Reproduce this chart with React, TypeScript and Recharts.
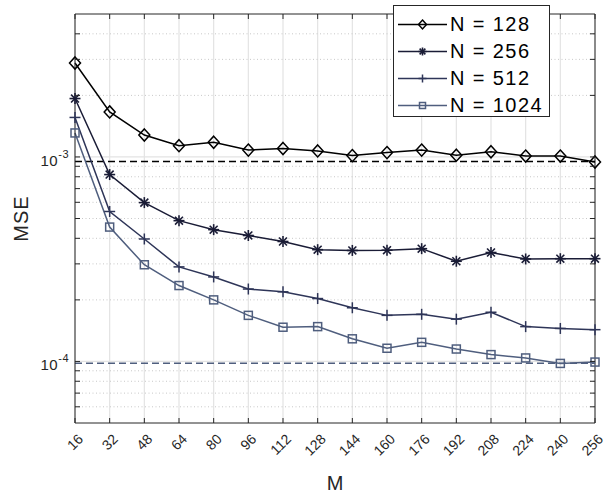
import React from 'react'
import {
  LineChart,
  Line,
  XAxis,
  YAxis,
  CartesianGrid,
  ReferenceLine,
} from 'recharts'

// M values on the x axis
const mValues = [16, 32, 48, 64, 80, 96, 112, 128, 144, 160, 176, 192, 208, 224, 240, 256]

// MSE per N
const mse128 = [2.88e-3, 1.66e-3, 1.28e-3, 1.135e-3, 1.18e-3, 1.08e-3, 1.1e-3, 1.07e-3, 1.015e-3, 1.05e-3, 1.08e-3, 1.02e-3, 1.06e-3, 1.01e-3, 1.01e-3, 9.45e-4]
const mse256 = [1.93e-3, 8.2e-4, 5.98e-4, 4.88e-4, 4.41e-4, 4.13e-4, 3.86e-4, 3.52e-4, 3.49e-4, 3.5e-4, 3.56e-4, 3.09e-4, 3.41e-4, 3.17e-4, 3.18e-4, 3.18e-4]
const mse512 = [1.56e-3, 5.41e-4, 3.97e-4, 2.9e-4, 2.59e-4, 2.26e-4, 2.19e-4, 2.03e-4, 1.83e-4, 1.68e-4, 1.7e-4, 1.61e-4, 1.74e-4, 1.48e-4, 1.45e-4, 1.43e-4]
const mse1024 = [1.31e-3, 4.54e-4, 2.97e-4, 2.35e-4, 2.0e-4, 1.68e-4, 1.47e-4, 1.48e-4, 1.29e-4, 1.16e-4, 1.24e-4, 1.15e-4, 1.08e-4, 1.04e-4, 9.78e-5, 9.93e-5]

// dashed bound lines
const boundHigh = 9.5e-4
const boundLow = 9.8e-5

const yMajorTicks = [1e-4, 1e-3]
const yMinorTicks = [6e-5, 7e-5, 8e-5, 9e-5, 2e-4, 3e-4, 4e-4, 5e-4, 6e-4, 7e-4, 8e-4, 9e-4, 2e-3, 3e-3, 4e-3]
const yDomain = [5e-5, 5e-3]

const legendLabels = ['N = 128', 'N = 256', 'N = 512', 'N = 1024']

const data = mValues.map((m, i) => ({
  m,
  n128: mse128[i],
  n256: mse256[i],
  n512: mse512[i],
  n1024: mse1024[i],
}))

const W = 605
const H = 493
const PLOT_LEFT = 75
const PLOT_RIGHT = 595
const PLOT_TOP = 14
const PLOT_BOTTOM = 423

const AXIS = '#262626'
const FONT = '"Liberation Sans", Arial, Helvetica, sans-serif'
const C128 = '#000000'
const C256 = '#1a1c36'
const C512 = '#2e3558'
const C1024 = '#4f5e7e'

type MarkerKind = 'diamond' | 'star' | 'plus' | 'square'

const Marker = ({ kind, cx, cy, s, color }: { kind: MarkerKind; cx: number; cy: number; s: number; color: string }) => {
  if (kind === 'diamond') {
    return (
      <polygon
        points={`${cx},${cy - s * 1.1} ${cx + s},${cy} ${cx},${cy + s * 1.1} ${cx - s},${cy}`}
        fill="none"
        stroke={color}
        strokeWidth={1.5}
      />
    )
  }
  if (kind === 'square') {
    return <rect x={cx - s} y={cy - s} width={s * 2} height={s * 2} fill="none" stroke={color} strokeWidth={1.5} />
  }
  if (kind === 'plus') {
    return (
      <g stroke={color} strokeWidth={1.5}>
        <line x1={cx - s} x2={cx + s} y1={cy} y2={cy} />
        <line x1={cx} x2={cx} y1={cy - s} y2={cy + s} />
      </g>
    )
  }
  const d = s * 0.72
  return (
    <g stroke={color} strokeWidth={1.6}>
      <line x1={cx - s} x2={cx + s} y1={cy} y2={cy} />
      <line x1={cx} x2={cx} y1={cy - s} y2={cy + s} />
      <line x1={cx - d} x2={cx + d} y1={cy - d} y2={cy + d} />
      <line x1={cx - d} x2={cx + d} y1={cy + d} y2={cy - d} />
    </g>
  )
}

const makeDot = (kind: MarkerKind, s: number, color: string) => (props: any) => {
  const { cx, cy, index } = props
  if (cx == null || cy == null) return <g key={index} />
  return (
    <g key={index}>
      <Marker kind={kind} cx={cx} cy={cy} s={s} color={color} />
    </g>
  )
}

const XTick = (props: any) => {
  const { x, payload } = props
  const ax = x + 9
  const ay = PLOT_BOTTOM + 17
  return (
    <g>
      <line x1={x} x2={x} y1={PLOT_BOTTOM} y2={PLOT_BOTTOM - 5} stroke={AXIS} />
      <line x1={x} x2={x} y1={PLOT_TOP} y2={PLOT_TOP + 5} stroke={AXIS} />
      <text
        x={ax}
        y={ay}
        transform={`rotate(-45 ${ax} ${ay})`}
        textAnchor="end"
        fontSize={14}
        fontFamily={FONT}
        fill={AXIS}
      >
        {String(payload.value)}
      </text>
    </g>
  )
}

const YTick = (props: any) => {
  const { y, payload } = props
  const v = payload.value
  const major = yMajorTicks.includes(v)
  const exp = Math.round(Math.log10(v))
  return (
    <g>
      <line x1={PLOT_LEFT} x2={PLOT_LEFT + 5} y1={y} y2={y} stroke={AXIS} />
      <line x1={PLOT_RIGHT} x2={PLOT_RIGHT - 5} y1={y} y2={y} stroke={AXIS} />
      {major && (
        <text x={69} y={y + 9} textAnchor="end" fontSize={15} fontFamily={FONT} fill={AXIS} letterSpacing={0.5}>
          <tspan>10</tspan>
          <tspan dy={-8} fontSize={11}>{String(exp)}</tspan>
        </text>
      )}
    </g>
  )
}

const XTitle = () => (
  <text x={(PLOT_LEFT + PLOT_RIGHT) / 2} y={490} textAnchor="middle" fontSize={20} fontFamily={FONT} fill={AXIS}>
    M
  </text>
)

const YTitle = () => (
  <text
    transform={`translate(28,${(PLOT_TOP + PLOT_BOTTOM) / 2}) rotate(-90)`}
    textAnchor="middle"
    fontSize={20}
    fontFamily={FONT}
    fill={AXIS}
    letterSpacing={1}
  >
    MSE
  </text>
)

const series: { key: string; color: string; kind: MarkerKind; size: number }[] = [
  { key: 'n128', color: C128, kind: 'diamond', size: 5.5 },
  { key: 'n256', color: C256, kind: 'star', size: 5.5 },
  { key: 'n512', color: C512, kind: 'plus', size: 5.5 },
  { key: 'n1024', color: C1024, kind: 'square', size: 4 },
]

const LegendBox = () => (
  <div
    style={{
      position: 'absolute',
      left: 393,
      top: 5,
      width: 157,
      height: 112,
      border: `1px solid ${AXIS}`,
      background: '#fff',
      boxSizing: 'border-box',
      paddingTop: 5,
    }}
  >
    {series.map((s, i) => (
      <div key={s.key} style={{ display: 'flex', alignItems: 'center', height: 27 }}>
        <svg width={56} height={27} style={{ flex: 'none' }}>
          <line x1={4} x2={53} y1={13.5} y2={13.5} stroke={s.color} strokeWidth={1.5} />
          <Marker kind={s.kind} cx={28.5} cy={13.5} s={s.kind === 'square' ? 3 : 4} color={s.color} />
        </svg>
        <span style={{ fontFamily: FONT, fontSize: 20, color: '#000', letterSpacing: 1.4, whiteSpace: 'nowrap' }}>
          {legendLabels[i]}
        </span>
      </div>
    ))}
  </div>
)

export default function App() {
  return (
    <div style={{ position: 'absolute', left: 0, top: 0, width: W, height: H, background: '#fff' }}>
      <LineChart width={W} height={H} data={data} margin={{ top: PLOT_TOP, right: W - PLOT_RIGHT, left: 15, bottom: 0 }}>
        <CartesianGrid horizontal={false} stroke="#e3e3e3" strokeWidth={1.2} />
        {yMinorTicks.map((v) => (
          <ReferenceLine key={'mi' + v} y={v} stroke="#c8c8c8" strokeDasharray="1 2.5" />
        ))}
        {yMajorTicks.map((v) => (
          <ReferenceLine key={'ma' + v} y={v} stroke="#e3e3e3" strokeWidth={1.2} />
        ))}
        <XAxis
          dataKey="m"
          type="number"
          domain={[16, 256]}
          ticks={mValues}
          interval={0}
          height={H - PLOT_BOTTOM}
          tickLine={false}
          axisLine={{ stroke: AXIS }}
          tick={<XTick />}
          label={<XTitle />}
        />
        <YAxis
          scale="log"
          domain={yDomain}
          allowDataOverflow
          ticks={[...yMinorTicks, ...yMajorTicks].sort((a, b) => a - b)}
          interval={0}
          width={PLOT_LEFT - 15}
          tickLine={false}
          axisLine={{ stroke: AXIS }}
          tick={<YTick />}
          label={<YTitle />}
        />
        <ReferenceLine y={yDomain[1]} stroke={AXIS} />
        <ReferenceLine x={256} stroke={AXIS} />
        <ReferenceLine y={boundHigh} stroke="#000" strokeWidth={1.5} strokeDasharray="7 4" />
        <ReferenceLine y={boundLow} stroke={C1024} strokeWidth={1.5} strokeDasharray="7 4" />
        {series.map((s) => (
          <Line
            key={s.key}
            dataKey={s.key}
            stroke={s.color}
            strokeWidth={1.5}
            dot={makeDot(s.kind, s.size, s.color)}
            activeDot={false}
            isAnimationActive={false}
          />
        ))}
      </LineChart>
      <LegendBox />
    </div>
  )
}
